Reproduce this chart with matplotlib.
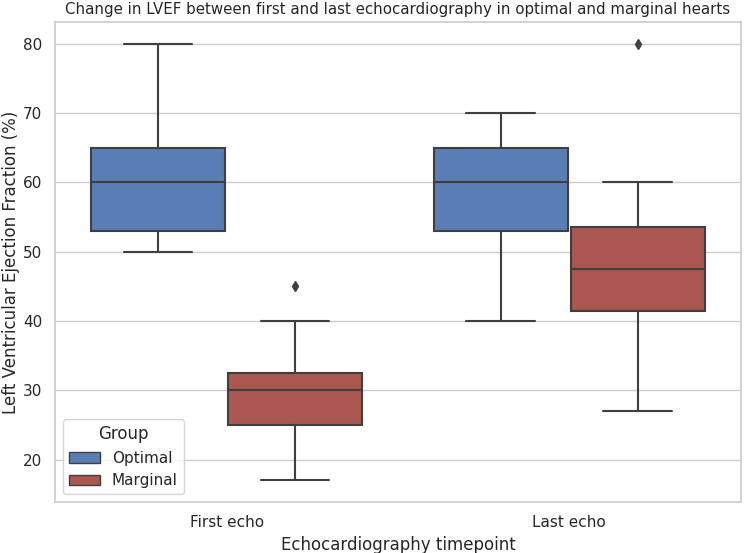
import matplotlib
matplotlib.use("Agg")
import matplotlib.pyplot as plt
import seaborn as sns
from matplotlib.patches import Patch

sns.set_theme(style="whitegrid")
plt.rcParams['font.family'] = ['DejaVu Sans']

timepoints = ["First echo", "Last echo"]
groups = ["Optimal", "Marginal"]
colors = ["#5b7db5", "#a9574f"]

# stats per group, per timepoint: (whislo, q1, med, q3, whishi, outliers)
optimal_stats = [(50, 53, 60, 65, 80, []), (40, 53, 60, 65, 70, [])]
marginal_stats = [(17, 25, 30, 32.5, 40, [45]), (27, 41.5, 47.5, 53.5, 60, [80])]

fig, ax = plt.subplots(figsize=(7.48, 5.53), dpi=100)

line_c = "#3f3f3f"
offsets = [-0.2, 0.2]
for g, (stats, col, off) in enumerate(zip([optimal_stats, marginal_stats], colors, offsets)):
    bxp_stats = []
    for s in stats:
        bxp_stats.append(dict(whislo=s[0], q1=s[1], med=s[2], q3=s[3], whishi=s[4], fliers=s[5]))
    pos = [i + off for i in range(len(timepoints))]
    ax.bxp(bxp_stats, positions=pos, widths=0.39, patch_artist=True, manage_ticks=False,
           boxprops=dict(facecolor=col, edgecolor=line_c, linewidth=1.5),
           medianprops=dict(color=line_c, linewidth=1.5),
           whiskerprops=dict(color=line_c, linewidth=1.5),
           capprops=dict(color=line_c, linewidth=1.5),
           capwidths=0.2,
           flierprops=dict(marker="d", markerfacecolor=line_c, markeredgecolor=line_c, markersize=5))

ax.set_xticks(range(len(timepoints)))
ax.set_xticklabels(timepoints)
ax.set_xlim(-0.5, 1.5)
ax.set_ylim(13.85, 83.15)
ax.xaxis.grid(False)
ax.tick_params(labelsize=11)
ax.set_xlabel("Echocardiography timepoint", fontsize=12)
ax.set_ylabel("Left Ventricular Ejection Fraction (%)", fontsize=12, labelpad=2)
ax.set_title("Change in LVEF between first and last echocardiography in optimal and marginal hearts", fontsize=10.8)

handles = [Patch(facecolor=c, edgecolor=line_c, label=g) for g, c in zip(groups, colors)]
ax.legend(handles=handles, title="Group", loc="lower left", fontsize=11, title_fontsize=12)

plt.subplots_adjust(left=0.074, right=0.99, top=0.96, bottom=0.092)
plt.savefig("out.png", dpi=100)
